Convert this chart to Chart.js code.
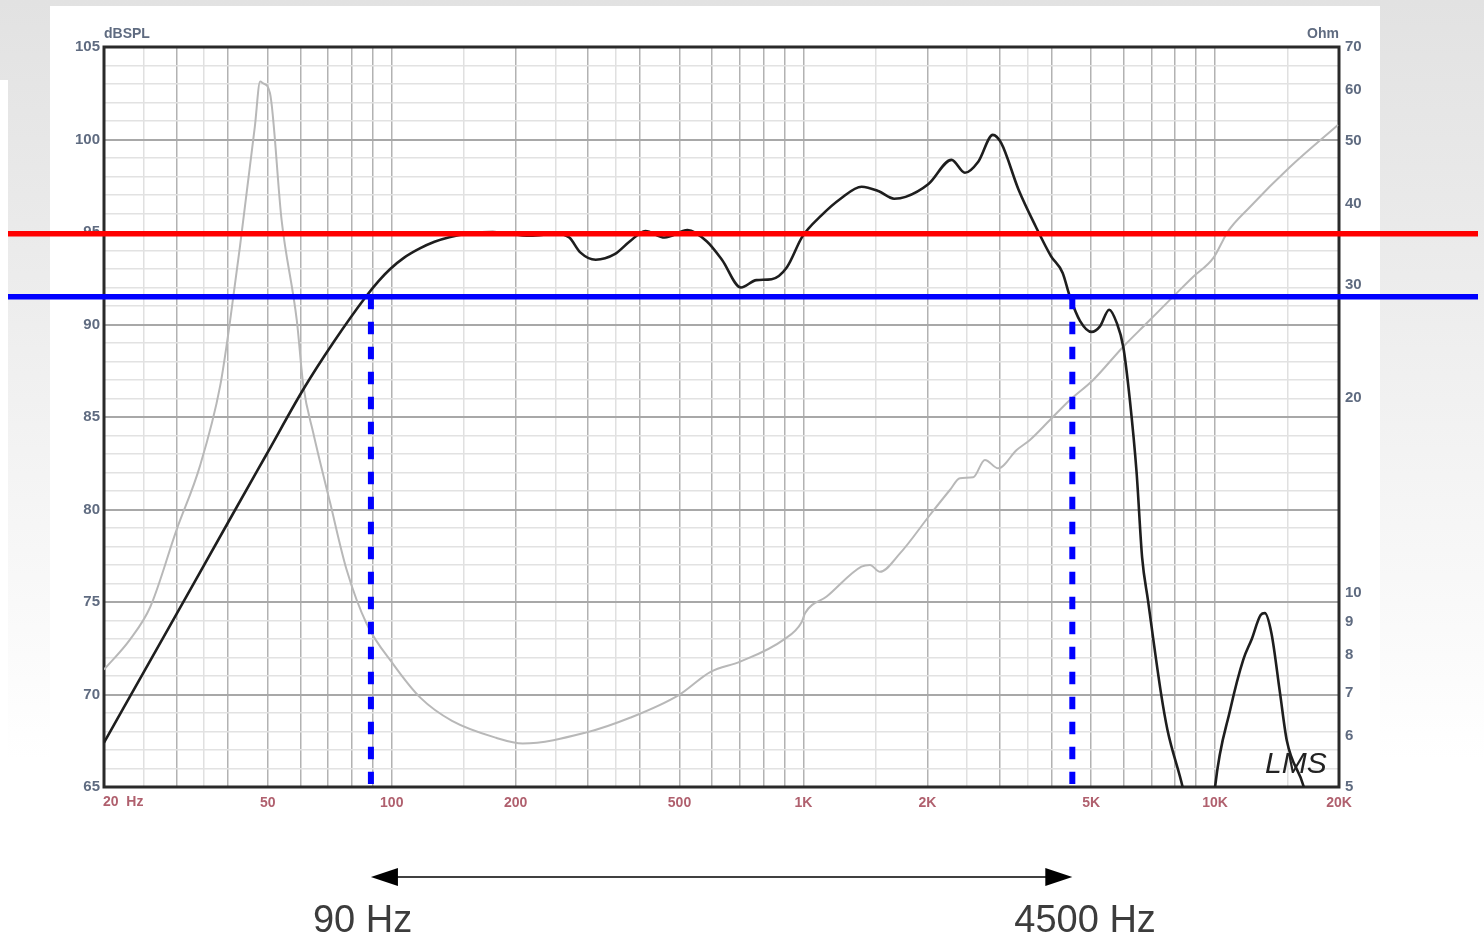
<!DOCTYPE html>
<html><head><meta charset="utf-8">
<script src="https://cdn.jsdelivr.net/npm/chart.js@4.4.0/dist/chart.umd.min.js"></script>
<style>
html,body{margin:0;padding:0;width:1484px;height:938px;overflow:hidden;
background:linear-gradient(180deg,#e2e2e2 0px,#ebebeb 250px,#f7f7f7 550px,#ffffff 760px);}
#panel{position:absolute;left:50px;top:6px;width:1330px;height:932px;background:#fff;}
#strip{position:absolute;left:0;top:80px;width:8px;height:858px;background:#fff;}
canvas{position:absolute;left:0;top:0;}
</style></head><body>
<div id="panel"></div><div id="strip"></div>
<canvas id="c" width="1484" height="938"></canvas>
<script>
// ---- data ----
const splFreq = [20,27.9,40.5,49.7,61,72,86.5,93,99,107,117,127,138,155,176,217,252,270,287,313,348,379,413,460,523,582,634,705,769,837,912,994,1106,1231,1385,1525,1661,1771,2013,2290,2468,2659,2885,3024,3330,3667,3993,4261,4440,4697,5012,5253,5530,5766,5983,6210,6447,6650,6870,7386,7660,8340,8900,9400,9800,10000,10890,11715,12280,12905,13210,13710,14375,14940,16430,17200];
const splDb = [67.4,73.1,79.5,83.0,86.5,89.0,91.5,92.36,92.99,93.6,94.11,94.47,94.72,94.92,95.0,94.8,94.9,94.7,93.9,93.5,93.8,94.5,95.05,94.7,95.1,94.5,93.5,92.0,92.4,92.45,93.1,94.75,95.9,96.8,97.45,97.2,96.8,96.9,97.6,98.9,98.2,98.8,100.25,99.8,97.3,95.3,93.7,92.8,91.5,90.2,89.6,89.9,90.8,90.1,88.8,85.9,82.0,77.4,75.1,70.1,68.1,65.0,62,60.5,62.5,65,69.2,71.9,73.0,74.3,74.4,73.3,70.1,67.5,65,63];
const impFreq = [20,23.1,25.9,30,34.2,38.3,40.5,42.8,46.5,47.9,48.7,50.6,54,58.8,61,64.5,70.8,77.7,86.9,101.1,117.5,140.1,179.2,208,296,379,498,595,702,894,990,1010,1139,1383,1451,1534,1716,2029,2269,2400,2585,2760,2973,3296,3550,3970,4440,5056,5983,6818,8064,8849,9895,10465,10684,12153,15200,19876];
const impOhm = [7.6,8.45,9.5,12.5,15.7,20.9,26.4,34.4,52.7,61.9,61.5,59.4,37.8,26.4,20.9,17.65,13.8,10.85,8.95,7.73,6.87,6.33,5.96,5.84,6.07,6.40,6.94,7.54,7.82,8.45,9.0,9.3,9.86,10.97,11.04,10.77,11.5,13.19,14.42,15.04,15.09,16.05,15.58,16.63,17.24,18.51,19.88,21.35,24.04,26.13,29.1,30.86,32.96,35.18,36.08,39.57,45.62,53.0];

const xGridFreqs = [20,25,30,35,40,50,60,70,80,90,100,150,200,250,300,350,400,500,600,700,800,900,1000,1500,2000,2500,3000,3500,4000,5000,6000,7000,8000,9000,10000,15000,20000];
const xLightFreqs = [25,35,150,250,350,1500,2500,3500,15000];
const xTickLabels = {50:'50',100:'100',200:'200',500:'500',1000:'1K',2000:'2K',5000:'5K',10000:'10K',20000:'20K'};
const xFirstLabel = '20  Hz';
const ohmTicks = [5,6,7,8,9,10,20,30,40,50,60,70];
const leftUnit = 'dBSPL', rightUnit = 'Ohm', logoText = 'LMS';
const refLevelsDb = [94.9, 91.5];          // red, blue horizontal reference levels
const refColors = ['#ff0000', '#0000ff'];
const cutoffFreqs = [89, 4500];
const cutoffLabels = ['90 Hz', '4500 Hz'];

const FONT = '"Liberation Sans", Arial, sans-serif';
const xTickPad = 8;

const overlay = {
  id: 'overlay',
  beforeDatasetsDraw(chart) {
    const {ctx, chartArea: a} = chart;
    ctx.save();
    ctx.strokeStyle = '#2a2a2a';
    ctx.lineWidth = 3;
    ctx.strokeRect(a.left, a.top, a.right - a.left, a.bottom - a.top);
    ctx.restore();
  },
  afterDraw(chart) {
    const {ctx, chartArea: a, scales} = chart;
    const xs = scales.x, ys = scales.y;
    ctx.save();
    // unit labels
    ctx.font = 'bold 14px ' + FONT;
    ctx.fillStyle = '#5f6b80';
    ctx.textBaseline = 'alphabetic';
    ctx.textAlign = 'left';
    ctx.fillText(leftUnit, a.left, a.top - 9);
    ctx.textAlign = 'right';
    ctx.fillText(rightUnit, a.right, a.top - 9);
    // first x label
    ctx.fillStyle = '#b0606e';
    ctx.textAlign = 'left';
    ctx.textBaseline = 'top';
    ctx.fillText(xFirstLabel, xs.getPixelForValue(xGridFreqs[0]) - 1, a.bottom + xTickPad);
    // logo
    ctx.font = 'italic 30px ' + FONT;
    ctx.fillStyle = '#222';
    ctx.textBaseline = 'alphabetic';
    ctx.fillText(logoText, a.right - 74, a.bottom - 14);
    // dashed cutoff lines
    const yTop = ys.getPixelForValue(refLevelsDb[1]);
    ctx.setLineDash([12.5, 12.5]);
    ctx.lineWidth = 6;
    ctx.strokeStyle = '#0000ff';
    cutoffFreqs.forEach(f => {
      const x = xs.getPixelForValue(f);
      ctx.beginPath(); ctx.moveTo(x, yTop); ctx.lineTo(x, a.bottom - 3); ctx.stroke();
    });
    ctx.setLineDash([]);
    // reference horizontal lines
    refLevelsDb.forEach((v, i) => {
      const y = ys.getPixelForValue(v);
      ctx.strokeStyle = refColors[i];
      ctx.lineWidth = 5.5;
      ctx.beginPath(); ctx.moveTo(8, y); ctx.lineTo(chart.width - 6, y); ctx.stroke();
    });
    // double arrow
    const x1 = xs.getPixelForValue(cutoffFreqs[0]);
    const x2 = xs.getPixelForValue(cutoffFreqs[1]);
    const ay = a.bottom + 90;
    ctx.strokeStyle = '#000'; ctx.fillStyle = '#000'; ctx.lineWidth = 1.4;
    ctx.beginPath(); ctx.moveTo(x1 + 20, ay); ctx.lineTo(x2 - 20, ay); ctx.stroke();
    ctx.beginPath(); ctx.moveTo(x1, ay); ctx.lineTo(x1 + 27, ay - 9); ctx.lineTo(x1 + 27, ay + 9); ctx.closePath(); ctx.fill();
    ctx.beginPath(); ctx.moveTo(x2, ay); ctx.lineTo(x2 - 27, ay - 9); ctx.lineTo(x2 - 27, ay + 9); ctx.closePath(); ctx.fill();
    // cutoff texts
    ctx.font = '38px ' + FONT;
    ctx.fillStyle = '#3c3c3c';
    ctx.textAlign = 'left';
    ctx.textBaseline = 'alphabetic';
    cutoffFreqs.forEach((f, i) => {
      ctx.fillText(cutoffLabels[i], xs.getPixelForValue(f) - 58, a.bottom + 145);
    });
    ctx.restore();
  }
};

new Chart(document.getElementById('c'), {
  type: 'line',
  data: {
    datasets: [
      {label: 'SPL', data: splFreq.map((f, i) => ({x: f, y: splDb[i]})), yAxisID: 'y',
       borderColor: '#1e1e1e', borderWidth: 2.6, pointRadius: 0, cubicInterpolationMode: 'monotone', order: 1},
      {label: 'Impedance', data: impFreq.map((f, i) => ({x: f, y: impOhm[i]})), yAxisID: 'y2',
       borderColor: '#b8b8b8', borderWidth: 2, pointRadius: 0, cubicInterpolationMode: 'monotone', order: 2}
    ]
  },
  options: {
    responsive: false, animation: false, devicePixelRatio: 1,
    layout: {padding: {left: 50, right: 100, top: 47, bottom: 121}},
    plugins: {legend: {display: false}, tooltip: {enabled: false}},
    scales: {
      x: {
        type: 'logarithmic', min: 20, max: 20000,
        afterBuildTicks: s => { s.ticks = xGridFreqs.map(v => ({value: v})); },
        afterFit: s => { s.height = 30; },
        ticks: {autoSkip: false, maxRotation: 0, minRotation: 0, padding: xTickPad, color: '#b0606e',
                font: {family: FONT, size: 14, weight: 'bold'},
                callback: v => xTickLabels[v] || ''},
        grid: {drawTicks: false, color: c => xLightFreqs.includes(c.tick && c.tick.value) ? '#e0e0e0' : '#b2b2b2', lineWidth: 1.5},
        border: {display: false}
      },
      y: {
        type: 'linear', position: 'left', min: 65, max: 105,
        afterFit: s => { s.width = 54; },
        ticks: {stepSize: 1, autoSkip: false, padding: 4, color: '#5f6b80',
                font: {family: FONT, size: 15, weight: 'bold'},
                callback: v => (v % 5 === 0 ? String(v) : '')},
        grid: {drawTicks: false,
               color: c => (c.tick && c.tick.value % 5 === 0) ? '#a8a8a8' : '#e2e2e2',
               lineWidth: c => (c.tick && c.tick.value % 5 === 0) ? 2 : 1.5},
        border: {display: false}
      },
      y2: {
        type: 'logarithmic', position: 'right', min: 5, max: 70,
        afterBuildTicks: s => { s.ticks = ohmTicks.map(v => ({value: v})); },
        afterFit: s => { s.width = 45; },
        ticks: {autoSkip: false, padding: 6, color: '#5f6b80',
                font: {family: FONT, size: 15, weight: 'bold'},
                callback: v => String(v)},
        grid: {display: false, drawTicks: false},
        border: {display: false}
      }
    }
  },
  plugins: [overlay]
});
</script>
</body></html>
